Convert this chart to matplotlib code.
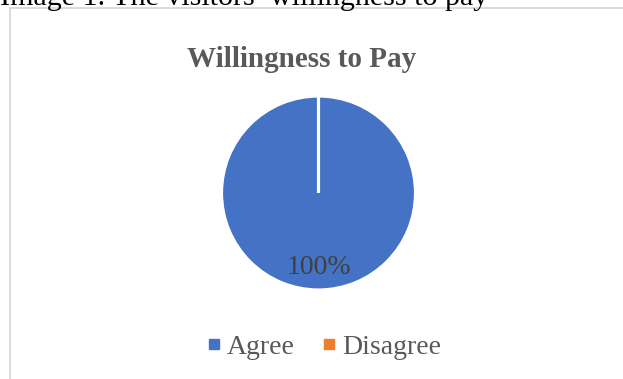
import matplotlib
matplotlib.use("Agg")
import matplotlib.pyplot as plt
from matplotlib.lines import Line2D
from matplotlib.patches import Rectangle

categories = ["Agree", "Disagree"]
values = [100, 0]
colors = ["#4472C4", "#ED7D31"]
title = "Willingness to Pay"
caption = "Image 1. The visitors\u2019 willingness to pay"

W, H = 623, 379
fig = plt.figure(figsize=(W / 100, H / 100), dpi=100)
fig.patch.set_facecolor("white")
serif = ["Liberation Serif", "DejaVu Serif"]

# chart frame (extends beyond the right/bottom edges)
fig.patches.append(Rectangle((10 / W, -0.1), 1.2, (H - 8.5) / H + 0.1,
                             transform=fig.transFigure, fill=False,
                             edgecolor="#D9D9D9", linewidth=1.3))

# caption clipped at top
fig.text(0.0, 1 - 5 / H, caption, fontsize=21.6, family=serif, color="black",
         ha="left", va="baseline")

# pie
cx, cy, r = 318.5, 193, 97
ax = fig.add_axes([(cx - r) / W, (H - cy - r) / H, 2 * r / W, 2 * r / H])


def fmt(p):
    return f"{p:.0f}%" if p > 0 else ""


wedges, texts, autotexts = ax.pie(
    values, colors=colors, startangle=90, counterclock=False,
    autopct=fmt, pctdistance=0.77,
    wedgeprops=dict(edgecolor="white", linewidth=2.3),
    textprops=dict(fontsize=20, family=serif, color="#404040"))
ax.set_xlim(-1, 1)
ax.set_ylim(-1, 1)
ax.set_aspect("equal")
ax.axis("off")

fig.text(302 / W, 1 - 67 / H, title, fontsize=21, fontweight="bold",
         family=serif, color="#595959", ha="center", va="baseline")

handles = [Line2D([], [], marker="s", linestyle="none", markersize=7,
                  markerfacecolor=c, markeredgecolor=c) for c in colors]
leg = fig.legend(handles, categories, loc="center", bbox_to_anchor=(324 / W, 1 - 347 / H),
                 ncol=2, frameon=False, handlelength=0.5, handletextpad=0.2,
                 columnspacing=1.0, prop=dict(family=serif, size=20))
for t in leg.get_texts():
    t.set_color("#595959")

fig.savefig("out.png", dpi=100, facecolor="white")
